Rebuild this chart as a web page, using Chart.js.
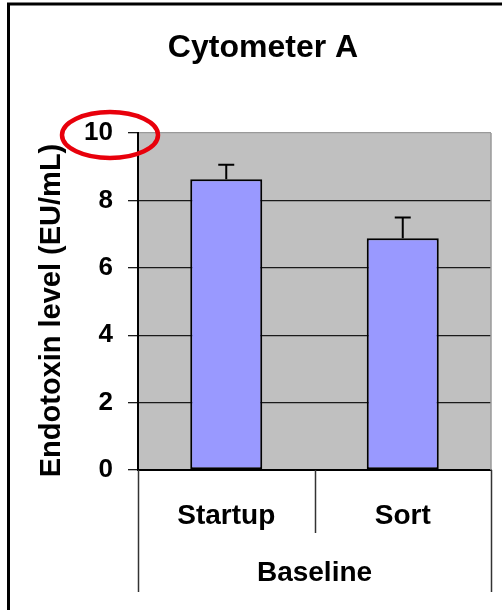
<!DOCTYPE html>
<html>
<head>
<meta charset="utf-8">
<title>Cytometer A</title>
<script src="https://cdn.jsdelivr.net/npm/chart.js@4/dist/chart.umd.min.js"></script>
<style>
  html, body { margin: 0; padding: 0; background: #fff; }
  canvas { display: block; }
</style>
</head>
<body>
<canvas id="chart" width="502" height="610"></canvas>
<script>
// chart data
const categories = ['Startup', 'Sort'];
const groupLabel = 'Baseline';
const yTitle = 'Endotoxin level (EU/mL)';
const endotoxin = [8.63, 6.88];
const errPlus = [0.43, 0.61];
const yTicks = [0, 2, 4, 6, 8, 10];

const FONT = '"Liberation Sans", Arial, sans-serif';
const COLORS = {
  bar: '#9999ff',
  plotBg: '#c0c0c0',
  grid: '#1a1a1a',
  lightEdge: '#9a9a9a',
  ink: '#000000',
  ring: '#e8000b'
};

// gray plot background + outer frame
const backdrop = {
  id: 'backdrop',
  beforeDraw(chart) {
    const { ctx, chartArea: a } = chart;
    ctx.save();
    ctx.fillStyle = '#fff';
    ctx.fillRect(0, 0, chart.width, chart.height);
    ctx.fillStyle = COLORS.plotBg;
    ctx.fillRect(a.left, a.top, a.right - a.left, a.bottom - a.top);
    ctx.strokeStyle = COLORS.ink;
    ctx.lineWidth = 3;
    ctx.beginPath();
    ctx.moveTo(8.5, chart.height);
    ctx.lineTo(8.5, 4);
    ctx.lineTo(chart.width, 4);
    ctx.stroke();
    ctx.restore();
  },
  beforeDatasetsDraw(chart) {
    const { ctx, chartArea: a } = chart;
    ctx.save();
    ctx.strokeStyle = COLORS.lightEdge;
    ctx.lineWidth = 1.5;
    ctx.beginPath();
    ctx.moveTo(a.right, a.top);
    ctx.lineTo(a.right, a.bottom);
    ctx.stroke();
    ctx.restore();
  }
};

// rotated y axis title, sits a little below the plot centre like the original
const yTitlePlugin = {
  id: 'yTitle',
  afterDraw(chart) {
    const { ctx, chartArea: a } = chart;
    ctx.save();
    ctx.translate(52, (a.top + a.bottom) / 2 + 9);
    ctx.rotate(-Math.PI / 2);
    ctx.fillStyle = COLORS.ink;
    ctx.font = 'bold 29px ' + FONT;
    ctx.textAlign = 'center';
    ctx.textBaseline = 'middle';
    ctx.fillText(yTitle, 0, 0);
    ctx.restore();
  }
};

// category dividers below the axis (two-level category axis)
const dividers = {
  id: 'dividers',
  afterDraw(chart) {
    const { ctx, chartArea: a } = chart;
    const x = chart.scales.x;
    ctx.save();
    ctx.strokeStyle = '#333';
    ctx.lineWidth = 1.5;
    for (let i = 0; i <= categories.length; i++) {
      const px = Math.round(x.getPixelForValue(i - 0.5)) + 0.5;
      const outer = i === 0 || i === categories.length;
      ctx.beginPath();
      ctx.moveTo(px, a.bottom);
      ctx.lineTo(px, outer ? a.bottom + 122 : a.bottom + 63);
      ctx.stroke();
    }
    ctx.restore();
  }
};

// plus-only error bars
const errorBars = {
  id: 'errorBars',
  afterDatasetsDraw(chart) {
    const { ctx } = chart;
    const y = chart.scales.y;
    const meta = chart.getDatasetMeta(0);
    ctx.save();
    ctx.strokeStyle = COLORS.ink;
    ctx.lineWidth = 2;
    meta.data.forEach((bar, i) => {
      const top = y.getPixelForValue(endotoxin[i] + errPlus[i]);
      const base = y.getPixelForValue(endotoxin[i]);
      ctx.beginPath();
      ctx.moveTo(bar.x, base);
      ctx.lineTo(bar.x, top);
      ctx.moveTo(bar.x - 8, top);
      ctx.lineTo(bar.x + 8, top);
      ctx.stroke();
    });
    ctx.restore();
  }
};

// red ring drawn around the top tick label
const ring = {
  id: 'ring',
  afterDraw(chart) {
    const { ctx, chartArea: a } = chart;
    const cy = chart.scales.y.getPixelForValue(yTicks[yTicks.length - 1]) + 2;
    ctx.save();
    ctx.strokeStyle = COLORS.ring;
    ctx.lineWidth = 4.5;
    ctx.beginPath();
    ctx.ellipse(a.left - 28, cy, 48, 23, 0, 0, Math.PI * 2);
    ctx.stroke();
    ctx.restore();
  }
};

new Chart(document.getElementById('chart'), {
  type: 'bar',
  data: {
    labels: categories,
    datasets: [{
      data: endotoxin,
      backgroundColor: COLORS.bar,
      borderColor: COLORS.ink,
      borderWidth: 2,
      borderSkipped: false,
      categoryPercentage: 1,
      barPercentage: 0.408
    }]
  },
  options: {
    responsive: false,
    animation: false,
    layout: { padding: { left: 35, right: 11, top: 0, bottom: 20 } },
    plugins: {
      legend: { display: false },
      tooltip: { enabled: false },
      title: {
        display: true,
        text: 'Cytometer A',
        color: COLORS.ink,
        font: { family: FONT, size: 32, weight: 'bold' },
        padding: { top: 29, bottom: 65.6 }
      }
    },
    scales: {
      x: {
        afterFit: s => { s.height = 120; },
        grid: { display: false, drawTicks: false },
        border: { display: true, color: COLORS.ink, width: 2 },
        ticks: {
          color: COLORS.ink, padding: 29, maxRotation: 0,
          font: { family: FONT, size: 28, weight: 'bold' }
        },
        title: {
          display: true,
          text: groupLabel,
          color: COLORS.ink,
          padding: { top: 0, bottom: 0 },
          font: { family: FONT, size: 28, weight: 'bold' }
        }
      },
      y: {
        min: 0,
        max: 10,
        afterFit: s => { s.width = 103; },
        afterBuildTicks: s => { s.ticks = yTicks.map(v => ({ value: v })); },
        grid: {
          color: c => (c.tick && c.tick.value === 10 ? COLORS.lightEdge : COLORS.grid),
          tickColor: COLORS.grid,
          tickLength: 10,
          lineWidth: 1.3
        },
        border: { display: true, color: COLORS.ink, width: 2 },
        ticks: {
          color: COLORS.ink, padding: 15,
          font: { family: FONT, size: 26, weight: 'bold' }
        },
        title: { display: false }
      }
    }
  },
  plugins: [backdrop, errorBars, dividers, yTitlePlugin, ring]
});
</script>
</body>
</html>
